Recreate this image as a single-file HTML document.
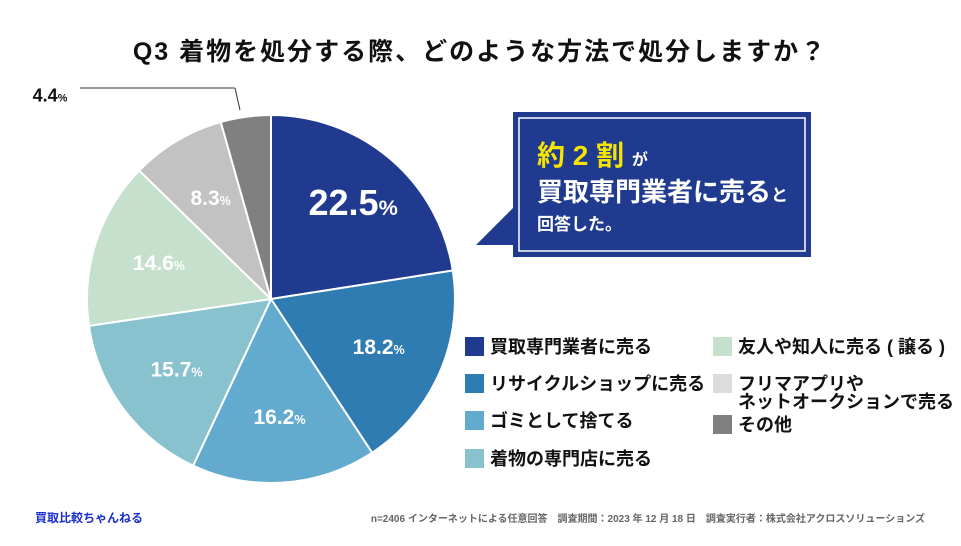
<!DOCTYPE html>
<html><head><meta charset="utf-8">
<style>
body{margin:0;width:961px;height:541px;background:#fff;overflow:hidden;font-family:"Liberation Sans","Noto Sans CJK JP",sans-serif;}
svg text{font-family:"Liberation Sans","Noto Sans CJK JP",sans-serif;font-weight:bold;}
</style></head><body>
<svg width="961" height="541" viewBox="0 0 961 541">
<text x="480" y="60" text-anchor="middle" font-size="25" letter-spacing="2" fill="#111">Q3 着物を処分する際、どのような方法で処分しますか？</text>
<g id="pie"></g>
<g id="legend"></g>
<line x1="80" y1="88" x2="235" y2="88" stroke="#333" stroke-width="1"/>
<line x1="235" y1="88" x2="240" y2="110" stroke="#333" stroke-width="1"/>
<polygon points="476,245 514,207 514,245" fill="#1f3a8f"/>
<rect x="513" y="112" width="298" height="145" fill="#1f3a8f"/>
<rect x="519" y="118" width="286" height="133" fill="none" stroke="#fff" stroke-width="1.5"/>
<text x="537" y="165" font-size="28" fill="#f5e400">約 2 割 <tspan font-size="16" fill="#fff">が</tspan></text>
<text x="537" y="201" font-size="26" fill="#fff">買取専門業者に売る<tspan font-size="17">と</tspan></text>
<text x="537" y="230" font-size="17" fill="#fff">回答した。</text>
<text x="35" y="522" font-size="12" fill="#1a2fd0">買取比較ちゃんねる</text>
<text x="925" y="522" text-anchor="end" font-size="10" fill="#666">n=2406 インターネットによる任意回答　調査期間：2023 年 12 月 18 日　調査実行者：株式会社アクロスソリューションズ</text>
</svg>
<script>
const categories=["買取専門業者に売る","リサイクルショップに売る","ゴミとして捨てる","着物の専門店に売る","友人や知人に売る ( 譲る )","フリマアプリや|ネットオークションで売る","その他"];
const values=[22.5,18.2,16.2,15.7,14.6,8.3,4.4];
const colors=["#1f3a8f","#2f7cb2","#62abcf","#88c2cf","#c5e0cc","#c2c2c2","#808080"];
const legendColors=["#1f3a8f","#2f7cb2","#62abcf","#88c2cf","#c5e0cc","#dcdcdc","#808080"];
const NS="http://www.w3.org/2000/svg";
const cx=271,cy=299,r=184;
const pie=document.getElementById('pie');
const total=values.reduce((a,b)=>a+b,0);
let a0=0;
function pt(a,rr){return [cx+rr*Math.sin(a),cy-rr*Math.cos(a)];}
values.forEach((v,i)=>{
 const a1=a0+v/total*2*Math.PI;
 const p0=pt(a0,r),p1=pt(a1,r);
 const path=document.createElementNS(NS,'path');
 path.setAttribute('d',`M${cx},${cy}L${p0[0]},${p0[1]}A${r},${r} 0 ${a1-a0>Math.PI?1:0} 1 ${p1[0]},${p1[1]}Z`);
 path.setAttribute('fill',colors[i]);path.setAttribute('stroke','#fff');path.setAttribute('stroke-width','2');
 
 
 pie.appendChild(path);
 const m=(a0+a1)/2;
 const t=document.createElementNS(NS,'text');
 let lp,fs=i==0?36:21;
 if(i==values.length-1){lp=[50,95];t.setAttribute('fill','#111');fs=18;}
 else{lp=pt(m,i==0?r*0.62:r*0.64);t.setAttribute('fill','#fff');}
 if(i==0){lp=[lp[0]+8,lp[1]-10];}
 t.setAttribute('x',lp[0]);t.setAttribute('y',lp[1]+fs*0.35);
 t.setAttribute('text-anchor','middle');t.setAttribute('font-size',fs);
 t.innerHTML=v.toFixed(1)+'<tspan font-size="'+(fs*0.6)+'">%</tspan>';
 
 
 pie.appendChild(t);
 a0=a1;
});
const lg=document.getElementById('legend');
const pos=[[465,346],[465,383],[465,420],[465,458],[713,346],[713,383],[713,424]];
categories.forEach((c,i)=>{
 const [x,y]=pos[i];
 const rc=document.createElementNS(NS,'rect');
 rc.setAttribute('x',x);rc.setAttribute('y',y-9);rc.setAttribute('width',19);rc.setAttribute('height',19);rc.setAttribute('fill',legendColors[i]);
 
 
 lg.appendChild(rc);
 c.split('|').forEach((line,k)=>{
  const t=document.createElementNS(NS,'text');
  t.setAttribute('x',x+25);t.setAttribute('y',y+7+k*18);t.setAttribute('font-size',18);t.setAttribute('fill','#111');
  t.textContent=line;
  
  
  lg.appendChild(t);
 });
});
</script>
</body></html>
